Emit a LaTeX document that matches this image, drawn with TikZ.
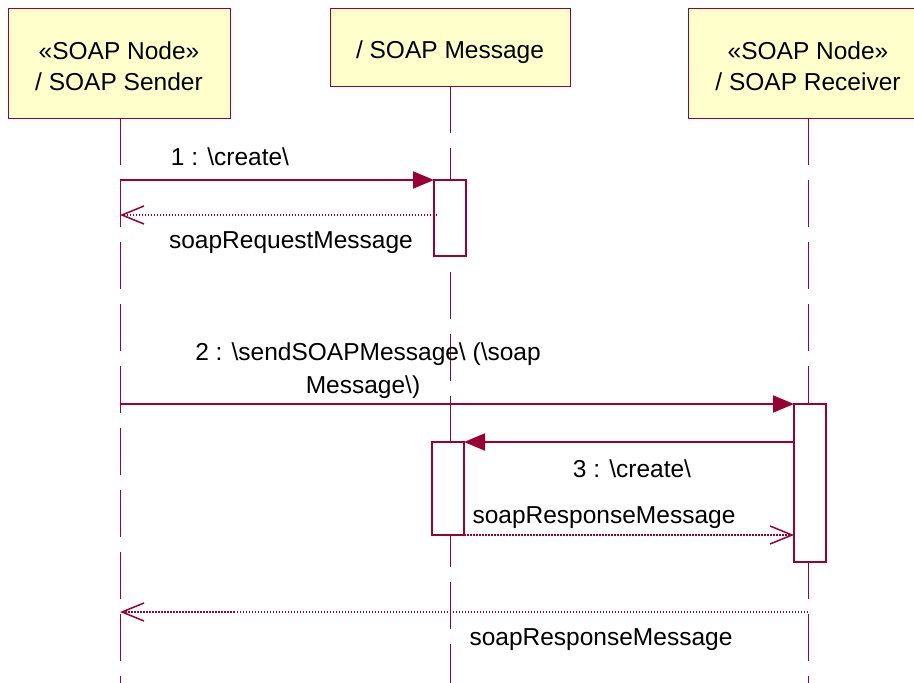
\documentclass[tikz,border=0pt]{standalone}
\usepackage{fontspec}
\setmainfont{Liberation Sans}
\usetikzlibrary{arrows.meta}
\definecolor{umlline}{RGB}{153,0,51}
\definecolor{umlfill}{RGB}{255,255,204}
\newcommand{\bs}{\textbackslash}
\newcommand{\lowertxt}[2]{\raisebox{-#1}[\height][\depth]{#2}}
\begin{document}
\begin{tikzpicture}[x=1pt,y=-1pt,
  font=\fontsize{24.5}{31}\selectfont,
  actor/.style={draw=umlline,line width=1pt,fill=umlfill,inner sep=0pt,outer sep=0pt,align=center,anchor=center},
  act/.style={draw=umlline,line width=2pt,fill=white,minimum width=32pt,inner sep=0pt,outer sep=0pt},
  life/.style={draw=umlline,line width=1pt,dash pattern=on 47pt off 15pt},
  msgline/.style={draw=umlline,line width=2pt,-{Triangle[length=21pt,width=17pt]}},
  retline/.style={draw=umlline,line width=1.3pt,dash pattern=on 1.5pt off 1.5pt,-{Straight Barb[length=22pt,width=18pt,line width=1.5pt]}},
  lbl/.style={anchor=base,inner sep=0pt}]
\useasboundingbox (0,0) rectangle (914,683);
\begin{scope}
\clip (0,0) rectangle (914,683);
% lifelines
\coordinate (sTop) at (120,118);
\coordinate (mTop) at (450,86);
\coordinate (rTop) at (808,118);
\coordinate (sBot) at (120,690);
\coordinate (mBot) at (450,690);
\coordinate (rBot) at (808,690);
\draw[life] (sTop) -- (sBot);
\draw[life] (mTop) -- (mBot);
\draw[life] (rTop) -- (rBot);
% header boxes
\node[actor,minimum width=222pt,minimum height=110pt] (snd) at (119,63) {\lowertxt{3pt}{«SOAP Node»}\\\lowertxt{3pt}{/ SOAP Sender}};
\node[actor,minimum width=240pt,minimum height=78pt] (msg) at (450,47) {\lowertxt{5pt}{/ SOAP Message}};
\node[actor,minimum width=240pt,minimum height=110pt] (rcv) at (808,63) {\lowertxt{3pt}{«SOAP Node»}\\\lowertxt{3pt}{/ SOAP Receiver}};
% activation boxes
\node[act,minimum height=76pt] (a1) at (450,218) {};
\node[act,minimum height=93pt] (a2) at (448,488.5) {};
\node[act,minimum height=158pt] (a3) at (810,483) {};
% message endpoints
\coordinate (s1) at (120,180);
\coordinate (r1s) at (437,215);
\coordinate (r1e) at (120,215);
\coordinate (s2) at (120,404);
\coordinate (m3s) at (794,442);
\coordinate (r2e) at (794,535);
\coordinate (r3s) at (808,612);
\coordinate (r3e) at (120,612);
% messages
\draw[msgline] (s1) -- (a1.north west);
\draw[retline] (r1s) -- (r1e);
\draw[msgline] (s2) -- (a3.north west);
\draw[msgline] (m3s) -- (a2.north east);
\draw[retline] (a2.south east) -- (r2e);
\draw[retline] (r3s) -- (r3e);
% labels
\node[lbl] (l1) at (230,165) {1 : \bs create\bs};
\node[lbl] (l1r) at (291,248) {soapRequestMessage};
\node[lbl] (l2a) at (368,360) {2 : \bs sendSOAPMessage\bs{} (\bs soap};
\node[lbl] (l2b) at (363,393) {Message\bs)};
\node[lbl] (l3) at (632,477) {3 : \bs create\bs};
\node[lbl] (l3r) at (604,523) {soapResponseMessage};
\node[lbl] (l4r) at (601,645) {soapResponseMessage};
\end{scope}
\end{tikzpicture}
\end{document}
